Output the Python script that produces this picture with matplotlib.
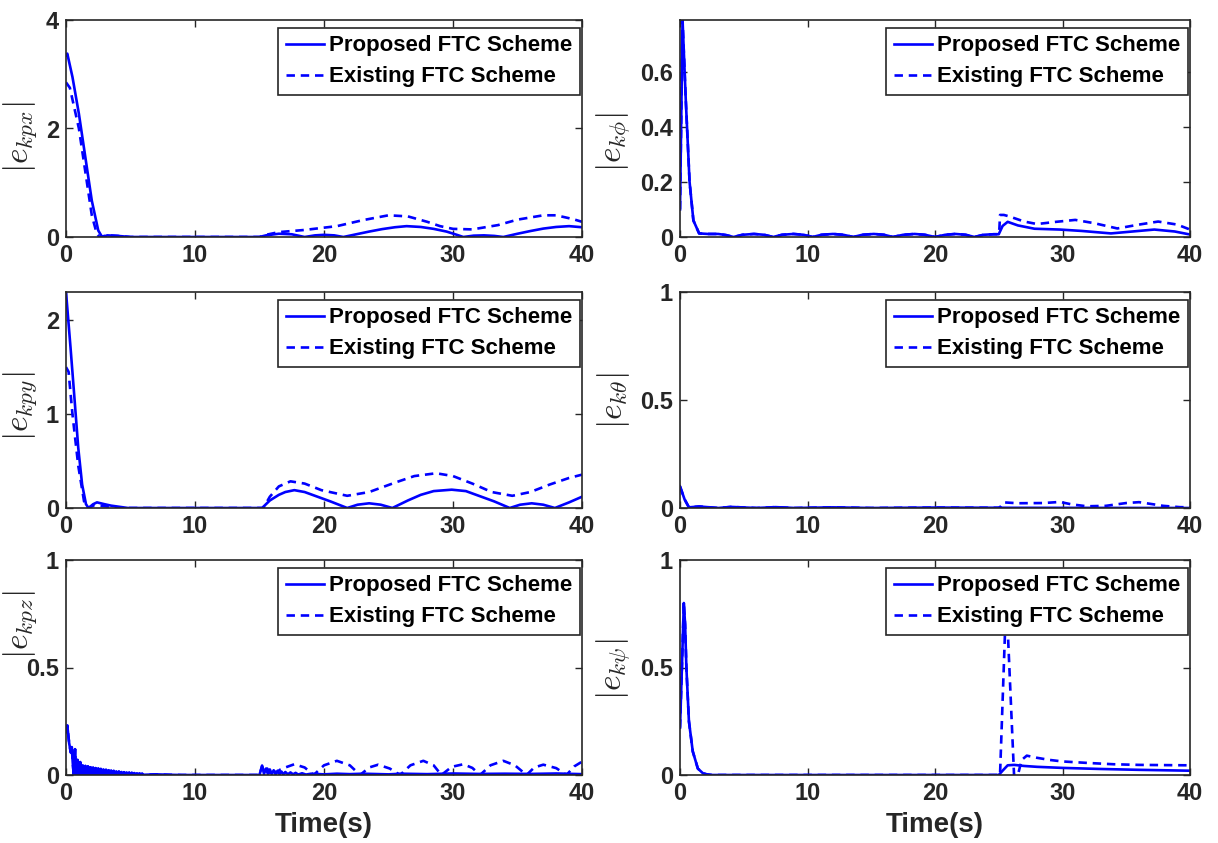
import numpy as np
import matplotlib
matplotlib.use("Agg")
import matplotlib.pyplot as plt

plt.rcParams['font.family'] = ['Liberation Sans', 'DejaVu Sans']
plt.rcParams['font.weight'] = 'bold'
plt.rcParams['mathtext.fontset'] = 'cm'

# ---- position errors ----
t_x_prop = [0, 0.1, 0.5, 1.0, 1.5, 2.0, 2.5, 2.8, 3.2, 4.0, 5.0, 15.0, 15.5, 16.5, 17.5, 18.5,
            19.3, 20.0, 20.8, 21.5, 22.5, 23.5, 24.5, 25.5, 26.4, 27.5, 28.5, 29.5, 30.3, 30.8,
            31.6, 32.4, 33.2, 33.9, 35.0, 36.0, 37.0, 38.0, 39.0, 40.0]
x_prop = [3.35, 3.38, 2.95, 2.27, 1.47, 0.67, 0.12, 0.0, 0.03, 0.02, 0.0, 0.0, 0.03, 0.06, 0.05, 0.0,
          0.03, 0.04, 0.03, 0.0, 0.05, 0.1, 0.145, 0.18, 0.2, 0.185, 0.15, 0.1, 0.04, 0.0,
          0.025, 0.03, 0.02, 0.0, 0.06, 0.11, 0.155, 0.185, 0.2, 0.18]
t_x_exist = [0, 0.3, 1.0, 1.5, 2.0, 2.4, 2.6, 3.2, 4.0, 5.0, 15.0, 15.5, 16.5, 18.5, 21.0, 23.0,
             25.0, 26.5, 28.0, 29.0, 30.0, 31.5, 33.5, 35.0, 37.0, 38.0, 39.3, 40.0]
x_exist = [2.85, 2.75, 2.0, 1.2, 0.4, 0.05, 0.0, 0.03, 0.02, 0.0, 0.0, 0.04, 0.09, 0.13, 0.2, 0.31,
           0.4, 0.38, 0.28, 0.2, 0.15, 0.14, 0.22, 0.32, 0.4, 0.4, 0.33, 0.28]

t_y_prop = [0, 0.35, 0.65, 0.95, 1.25, 1.55, 1.75, 2.1, 2.4, 3.0, 3.5, 4.8, 5.5, 15.2, 15.8, 16.5,
            17.0, 17.7, 18.5, 19.5, 20.5, 21.8, 22.6, 23.5, 24.4, 25.3, 26.5, 27.5, 28.5, 29.9,
            31.0, 32.0, 33.2, 34.4, 35.2, 36.1, 37.0, 37.9, 39.0, 40.0]
y_prop = [2.3, 1.71, 1.18, 0.64, 0.25, 0.04, 0.0, 0.04, 0.06, 0.04, 0.025, 0.0, 0.0, 0.0, 0.08, 0.14,
          0.17, 0.19, 0.17, 0.12, 0.07, 0.0, 0.035, 0.05, 0.035, 0.0, 0.08, 0.14, 0.18, 0.195,
          0.18, 0.13, 0.07, 0.0, 0.035, 0.05, 0.035, 0.0, 0.06, 0.12]
t_y_exist = [0, 0.2, 0.5, 0.95, 1.4, 1.7, 2.2, 3.0, 4.5, 15.3, 15.8, 16.5, 17.4, 18.5, 19.8, 21.8,
             23.5, 25.5, 27.0, 28.7, 30.0, 31.5, 33.0, 34.6, 36.0, 37.5, 39.0, 40.0]
y_exist = [1.5, 1.45, 1.0, 0.45, 0.07, 0.0, 0.03, 0.02, 0.0, 0.0, 0.12, 0.23, 0.284, 0.26, 0.19, 0.13,
           0.17, 0.27, 0.34, 0.37, 0.34, 0.26, 0.17, 0.13, 0.17, 0.25, 0.32, 0.355]

t_z_prop = [0, 0.1, 0.24, 0.37, 0.45, 0.52, 0.6, 0.7, 0.8, 0.9, 1.0, 1.1,
            1.2, 1.3, 1.4, 1.5, 1.6, 1.7, 1.8, 1.9, 2.0, 2.1, 2.2, 2.3, 2.4, 2.5, 2.6, 2.7, 2.8, 2.9,
            3.0, 3.1, 3.2, 3.3, 3.4, 3.5, 3.6, 3.7, 3.8, 3.9, 4.0, 4.1, 4.2, 4.3, 4.4, 4.5, 4.6, 4.7,
            4.8, 4.9, 5.0, 5.1, 5.2, 5.3, 5.4, 5.5, 5.6, 5.7, 5.8, 5.9, 6.0, 7.0, 8.0, 9.0, 15.0,
            15.2, 15.35, 15.5, 15.65, 15.8, 15.95, 16.1, 16.25, 16.4, 16.55, 16.7, 16.85, 17.0, 17.2,
            17.4, 17.6, 17.8, 18.0, 18.3, 18.6, 19.0, 20.0, 21.0, 22.0, 23.0, 25.0, 26.0, 28.0, 30.0,
            32.0, 34.0, 36.0, 38.0, 40.0]
z_prop = [0.2, 0.23, 0.15, 0.105, 0.13, 0.06, 0.0, 0.12, 0.0, 0.07, 0.0, 0.06,
          0.0, 0.045, 0.002, 0.042, 0.003, 0.04, 0.002, 0.036, 0.003, 0.034, 0.002, 0.032, 0.003,
          0.03, 0.002, 0.028, 0.003, 0.026, 0.002, 0.024, 0.003, 0.022, 0.002, 0.021, 0.002, 0.019,
          0.002, 0.017, 0.002, 0.016, 0.002, 0.014, 0.001, 0.013, 0.001, 0.012, 0.001, 0.011, 0.001,
          0.01, 0.001, 0.009, 0.001, 0.008, 0.001, 0.007, 0.001, 0.006, 0.001, 0.003, 0.001, 0.0,
          0.0, 0.044, 0.005, 0.03, 0.005, 0.026, 0.005, 0.022, 0.003, 0.02, 0.004, 0.016, 0.003,
          0.014, 0.003, 0.012, 0.003, 0.01, 0.002, 0.008, 0.002, 0.006, 0.003, 0.006, 0.004, 0.006,
          0.003, 0.006, 0.004, 0.007, 0.005, 0.006, 0.005, 0.007, 0.004]
t_z_exist = [15.0, 15.2, 15.4, 15.6, 15.8, 16.0, 16.3, 16.6, 17.0, 17.7, 18.5, 19.2, 20.0, 21.0,
             22.0, 22.8, 23.5, 24.2, 25.1, 25.9, 26.7, 27.7, 28.5, 29.1, 29.9, 30.8, 31.5, 32.1,
             32.9, 33.9, 34.8, 35.7, 36.3, 37.0, 38.0, 38.8, 39.4, 40.0]
z_exist_tail = [0.0, 0.04, 0.01, 0.03, 0.01, 0.025, 0.01, 0.025, 0.035, 0.05, 0.035, 0.0, 0.045,
                0.066, 0.045, 0.0, 0.035, 0.048, 0.03, 0.0, 0.045, 0.066, 0.045, 0.0, 0.038, 0.05,
                0.033, 0.0, 0.045, 0.066, 0.045, 0.0, 0.035, 0.048, 0.032, 0.0, 0.04, 0.062]

# ---- attitude errors ----
t_phi_prop = [0, 0.2, 0.45, 0.75, 1.05, 1.5, 2.2, 3.0, 3.6, 4.2, 4.9, 5.8, 6.6, 7.3, 8.0, 8.9, 9.7,
              10.4, 11.1, 12.0, 12.8, 13.6, 14.3, 15.2, 16.0, 16.7, 17.5, 18.4, 19.2, 20.0, 20.8,
              21.6, 22.4, 23.1, 23.8, 24.6, 25.0]
phi_prop_pre = [0.1, 0.787, 0.5, 0.2, 0.06, 0.013, 0.011, 0.011, 0.007, 0.0, 0.008, 0.011, 0.008,
                0.0, 0.008, 0.011, 0.008, 0.0, 0.008, 0.011, 0.008, 0.0, 0.008, 0.011, 0.008, 0.0,
                0.008, 0.011, 0.008, 0.0, 0.008, 0.011, 0.008, 0.0, 0.008, 0.01, 0.01]
t_phi_post = [25.3, 25.7, 26.5, 27.8, 29.8, 31.5, 33.8, 35.5, 37.2, 38.8, 40.0]
phi_prop_post = [0.04, 0.055, 0.042, 0.03, 0.027, 0.022, 0.013, 0.02, 0.027, 0.02, 0.009]
t_phi_exist_post = [25.05, 25.1, 25.4, 25.8, 27.0, 28.0, 29.5, 31.0, 32.5, 34.3, 36.0, 37.5, 39.0, 40.0]
phi_exist_post = [0.03, 0.08, 0.08, 0.075, 0.056, 0.047, 0.055, 0.062, 0.05, 0.031, 0.045, 0.056,
                  0.045, 0.027]

t_th_prop = [0, 0.36, 0.7, 1.5, 3.0, 4.0, 6.0, 7.5, 9.0, 12.0, 15.0, 20.0, 25.0, 40.0]
th_prop = [0.1, 0.04, 0.003, 0.007, 0.0, 0.005, 0.0, 0.004, 0.0, 0.003, 0.0, 0.002, 0.001, 0.0]
t_th_exist_post = [25.05, 25.4, 26.5, 28.5, 29.8, 30.7, 31.9, 33.4, 35.0, 36.0, 36.8, 37.9, 39.2, 40.0]
th_exist_post = [0.0, 0.026, 0.022, 0.023, 0.028, 0.017, 0.008, 0.01, 0.023, 0.027, 0.02, 0.01,
                 0.004, 0.003]

t_psi_prop = [0, 0.15, 0.3, 0.4, 0.5, 0.7, 1.0, 1.4, 1.8, 2.1, 2.5, 25.0]
psi_prop_pre = [0.22, 0.5, 0.8, 0.7, 0.5, 0.25, 0.11, 0.03, 0.008, 0.003, 0.0, 0.0]
t_psi_post = [25.3, 25.7, 26.2, 27.0, 28.0, 30.0, 33.0, 36.0, 40.0]
psi_prop_post = [0.02, 0.045, 0.047, 0.042, 0.038, 0.033, 0.028, 0.024, 0.02]
t_psi_exist_post = [25.1, 25.5, 25.7, 26.2, 26.5, 26.8, 27.2, 28.0, 29.0, 30.0, 32.0, 34.0, 36.0,
                    38.0, 40.0]
psi_exist_post = [0.0, 0.68, 0.68, 0.0, 0.0, 0.07, 0.09, 0.08, 0.07, 0.063, 0.056, 0.05, 0.047,
                  0.046, 0.045]

panels = [
    (t_x_prop, x_prop, t_x_exist, x_exist, r'$|e_{kpx}|$', 4.0, [0, 2, 4]),
    (t_phi_prop + t_phi_post, phi_prop_pre + phi_prop_post,
     t_phi_prop + t_phi_exist_post, phi_prop_pre + phi_exist_post,
     r'$|e_{k\phi}|$', 0.787, [0, 0.2, 0.4, 0.6]),
    (t_y_prop, y_prop, t_y_exist, y_exist, r'$|e_{kpy}|$', 2.3, [0, 1, 2]),
    (t_th_prop, th_prop, t_th_prop[:-1] + t_th_exist_post, th_prop[:-1] + th_exist_post,
     r'$|e_{k\theta}|$', 1.0, [0, 0.5, 1]),
    (t_z_prop, z_prop, t_z_prop[:64] + t_z_exist, z_prop[:64] + z_exist_tail,
     r'$|e_{kpz}|$', 1.0, [0, 0.5, 1]),
    (t_psi_prop + t_psi_post, psi_prop_pre + psi_prop_post,
     t_psi_prop + t_psi_exist_post, psi_prop_pre + psi_exist_post,
     r'$|e_{k\psi}|$', 1.0, [0, 0.5, 1]),
]

W, H = 1218, 843
fig = plt.figure(figsize=(W / 100, H / 100), dpi=100)

cols = [(66, 582), (680, 1190)]
rows = [(20, 237), (292, 508), (560, 775)]
# vertical spot of each y label, in axes fraction
label_y = [0.46, 0.44, 0.47, 0.5, 0.7, 0.49]
dark = '#262626'

for i, (tp, vp, te, ve, lab, ytop, yt) in enumerate(panels):
    r, c = divmod(i, 2)
    x0, x1 = cols[c]
    y0, y1 = rows[r]
    ax = fig.add_axes([x0 / W, 1 - y1 / H, (x1 - x0) / W, (y1 - y0) / H])
    ax.plot(te, ve, color='blue', lw=1.9, dashes=(3.2, 2.2), label='Existing FTC Scheme')
    ax.plot(tp, vp, color='blue', lw=1.9, label='Proposed FTC Scheme')
    ax.set_xlim(0, 40)
    ax.set_ylim(0, ytop)
    ax.set_xticks([0, 10, 20, 30, 40])
    ax.set_yticks(yt)
    ax.set_yticklabels(['%g' % v for v in yt])
    ax.tick_params(direction='in', length=5, width=1, top=True, right=True,
                   labelsize=17, colors=dark, pad=5)
    for sp in ax.spines.values():
        sp.set_color(dark)
        sp.set_linewidth(1.2)
    ax.set_ylabel(lab, fontsize=24, color=dark)
    ax.yaxis.set_label_coords(-0.052 if c == 0 else -0.095, label_y[i])
    if r == 2:
        ax.set_xlabel('Time(s)', fontsize=20, fontweight='bold', color=dark, labelpad=5)
    h, l = ax.get_legend_handles_labels()
    leg = ax.legend(h[::-1], l[::-1], loc='upper right', bbox_to_anchor=(0.997, 0.965),
                    borderaxespad=0, prop={'weight': 'bold', 'size': 16},
                    fancybox=False, framealpha=1, edgecolor=dark, handlelength=1.7,
                    handletextpad=0.25, borderpad=0.35, labelspacing=0.45)
    leg.get_frame().set_linewidth(1.2)

fig.savefig('out.png', dpi=100)
